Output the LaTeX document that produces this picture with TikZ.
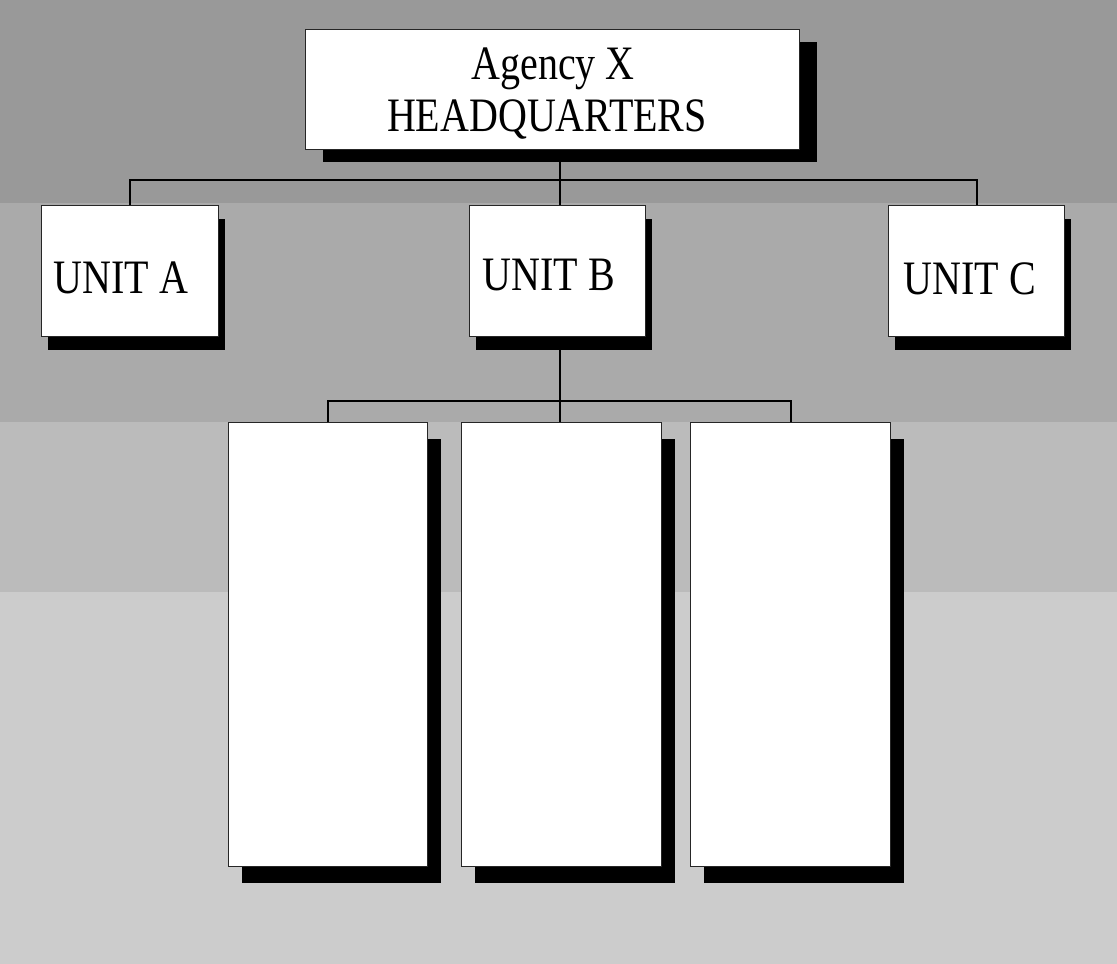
\documentclass[tikz,border=0pt]{standalone}
\usepackage{fontspec}
\setmainfont{Liberation Serif}
\usetikzlibrary{shadows}
\definecolor{bandA}{RGB}{153,153,153}
\definecolor{bandB}{RGB}{170,170,170}
\definecolor{bandC}{RGB}{187,187,187}
\definecolor{bandD}{RGB}{204,204,204}
\tikzset{
  x=1pt,y=1pt,
  box/.style={draw=black!85,line width=1pt,fill=white,inner sep=0pt,anchor=north west},
  sh/.style 2 args={general shadow={fill=black,shadow xshift=#1,shadow yshift=#2}},
  conn/.style={draw=black,line width=2pt},
  txt/.style={inner sep=0pt,anchor=base,font=\fontsize{40}{44}\selectfont}
}
\newcommand{\tall}[1]{\scalebox{1}[1.2]{#1}}
\begin{document}
\begin{tikzpicture}
\useasboundingbox (0,0) rectangle (1117,-964);
% background bands
\fill[bandA] (0,0) rectangle (1117,-203);
\fill[bandB] (0,-203) rectangle (1117,-422);
\fill[bandC] (0,-422) rectangle (1117,-592);
\fill[bandD] (0,-592) rectangle (1117,-964);
% junctions
\coordinate (j1) at (560,-180);
\coordinate (j2) at (560,-401);
% upper boxes
\node[box,sh={17pt}{-12pt},minimum width=494pt,minimum height=120pt] (hq) at (305,-29) {};
\node[box,sh={6.5pt}{-13pt},minimum width=177pt,minimum height=131pt] (ua) at (41,-205) {};
\node[box,sh={6.5pt}{-13pt},minimum width=176pt,minimum height=131pt] (ub) at (469,-205) {};
\node[box,sh={6.5pt}{-13pt},minimum width=176pt,minimum height=131pt] (uc) at (888,-205) {};
% connectors
\draw[conn] (hq.south -| j1) ++(0,-12) -- (ub.north -| j1);
\draw[conn] (ua.north) |- (j1) -| (uc.north);
\draw[conn] (ub.south -| j2) -- (j2);
% lower boxes
\node[box,sh={13pt}{-16pt},minimum width=199pt,minimum height=444pt] (b1) at (228,-422) {};
\node[box,sh={13pt}{-16pt},minimum width=200pt,minimum height=444pt] (b2) at (461,-422) {};
\node[box,sh={13pt}{-16pt},minimum width=200pt,minimum height=444pt] (b3) at (690,-422) {};
\draw[conn] (b1.north) |- (j2) -| (b3.north);
\draw[conn] (j2) -- (b2.north -| j2);
% texts
\node[txt] (t1) at (553,-79) {\tall{Agency X}};
\node[txt] (t2) at (547,-131) {\tall{HEADQUARTERS}};
\node[txt] (ta) at (121,-293) {\tall{UNIT A}};
\node[txt] (tb) at (549,-290) {\tall{UNIT B}};
\node[txt] (tc) at (970,-294) {\tall{UNIT C}};
\end{tikzpicture}
\end{document}
